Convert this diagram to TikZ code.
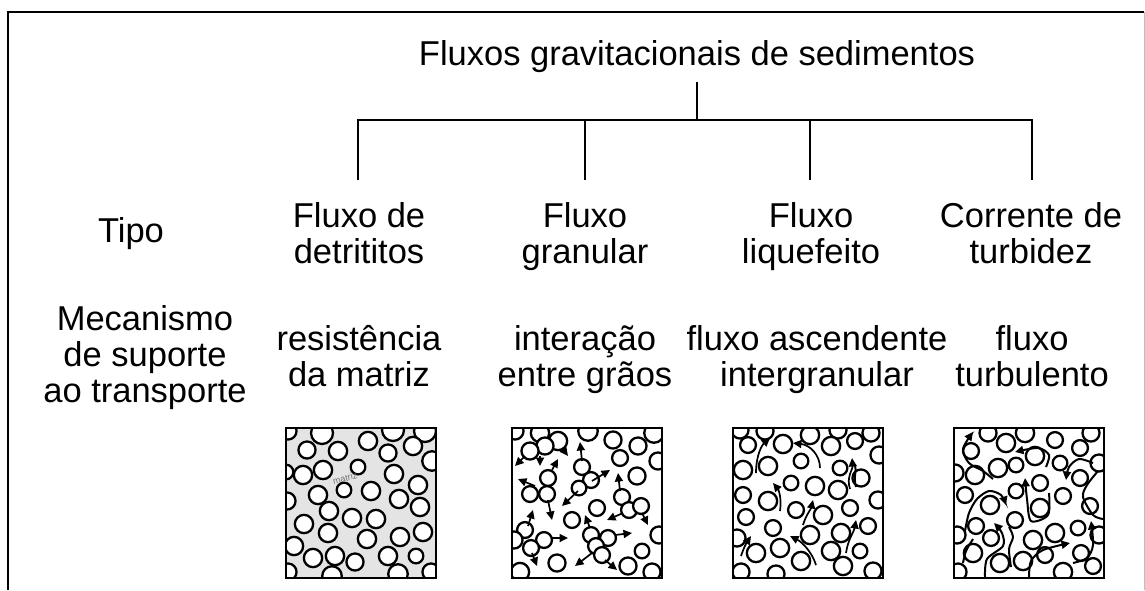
\documentclass[tikz,border=0pt]{standalone}
\usepackage{fontspec}
\setmainfont{Liberation Sans}
\usetikzlibrary{arrows.meta}
\definecolor{matrixgray}{RGB}{228,228,228}
\newcommand\lblfont{\fontsize{34.5}{36}\selectfont}
\newcommand\grainset[1]{\foreach \gx/\gy/\gr in {#1} {\draw[grain] (\gx,\gy) circle [radius=1.22*\gr pt];}}
\tikzset{
  lbl/.style={font=\lblfont, align=center, inner sep=0pt, anchor=base},
  grain/.style={draw=black, line width=2.3pt, fill=white},
  boxframe/.style={draw=black, line width=2.2pt, minimum size=150pt, inner sep=0pt, anchor=north west},
  link/.style={line width=1.6pt},
  push/.style={line width=1.7pt, -{Triangle[length=8.5pt,width=8pt]}},
  swirl/.style={line width=2pt, -{Triangle[length=8.5pt,width=8pt]}},
  wave/.style={line width=2pt}
}
\begin{document}
\begin{tikzpicture}[x=1pt,y=-1pt]
\useasboundingbox (0,0) rectangle (1145,590);
\fill[white] (0,0) rectangle (1145,590);

% outer frame
\draw[line width=2pt] (8,590) -- (8,12) -- (1144,12);
\draw[gray!50, line width=0.6pt] (1144,12) -- (1144,590);

% title and tree (multi-line labels are placed by the baseline of their last line)
\node[lbl, inner ysep=10pt] (ttl) at (697,65) {Fluxos gravitacionais de sedimentos};
\coordinate (hub) at (697,120);
\coordinate (j1) at (358,120);
\coordinate (j2) at (585,120);
\coordinate (j3) at (810,120);
\coordinate (j4) at (1032,120);
\coordinate (e1) at (358,180);
\coordinate (e2) at (585,180);
\coordinate (e3) at (810,180);
\coordinate (e4) at (1032,180);
\draw[link] (ttl.south) -- (hub);
\draw[link] (e1) -- (j1) -- (j4) -- (e4);
\draw[link] (j2) -- (e2);
\draw[link] (j3) -- (e3);

% row headings
\node[lbl] (tipo) at (131,242) {Tipo};
\node[lbl] (mec) at (145,402) {Mecanismo\\de suporte\\ao transporte};

% flow types
\node[lbl] (ty1) at (359,263) {Fluxo de\\detrititos};
\node[lbl] (ty2) at (585,263) {Fluxo\\granular};
\node[lbl] (ty3) at (811,263) {Fluxo\\liquefeito};
\node[lbl] (ty4) at (1031,263) {Corrente de\\turbidez};

% support mechanisms
\node[lbl] (me1) at (359,386) {resistência\\da matriz};
\node[lbl] (me2) at (585,386) {interação\\entre grãos};
\node[lbl] (me3) at (817,386) {fluxo ascendente\\intergranular};
\node[lbl] (me4) at (1032,386) {fluxo\\turbulento};

% ---- box 1: grains floating in matrix
\fill[matrixgray] (285,427) rectangle ++(150,150);
\begin{scope}[shift={(285,427)}]
  \clip (0,0) rectangle (150,150);
  \grainset{1/45/6, 3/4/7, 37/6/9, 108/3/9, 140/4/9, 22/23/7, 53/24/7.5, 83/14/7.5, 103/26/7,
    128/19/7.5, 147/34/8, 18/48/7.5, 38/43/7.5, 73/40/6, 109/47/7.5, 133/58/7.5, 33/68/7.5,
    59/63/6, 86/64/7.5, 114/72/7.5, 2/74/7, 135/80/7.5, 44/84/7.5, 19/97/7.5, 67/91/7.5,
    91/92/7.5, 43/106/7.5, 138/105/7.5, 82/112/7.5, 115/110/7.5, 9/119/7.5, 28/131/7.5,
    50/129/7.5, 70/135/7, 103/129/7.5, 131/129/6, 146/145/7, 47/149/8, 113/147/8, 3/145/7}
  \node[rotate=14, text=black!55, font=\fontsize{9}{9}\selectfont, inner sep=0pt] (mtx) at (60,51) {matriz};
\end{scope}
\node[boxframe] (box1) at (285,427) {};

% ---- box 2: grain collisions
\begin{scope}[shift={(511,427)}]
  \clip (0,0) rectangle (150,150);
  \grainset{4/4/7, 29/6/7.5, 47/14/7.5, 34/19/7, 19/24/7, 77/4/8, 102/13/7, 127/19/7, 143/6/8,
    109/31/6.5, 147/34/7, 71/40/6.5, 80/53/6.5, 68/61/6, 126/49/7, 37/51/6.5, 19/67/6.5,
    36/67/6.5, 111/70/6.5, 86/81/6.5, 118/83/6.5, 130/79/6.5, 61/93/6.5, 148/108/7, 14/103/6.5,
    3/113/7, 33/113/6.5, 20/121/6.5, 80/108/6.5, 97/111/6.5, 85/119/6.5, 91/128/6.5,
    131/124/6, 46/136/7, 9/145/7.5, 117/139/7, 141/145/7}
  \draw[push] (14,29) -- (4,39);
  \draw[push] (29,29) -- (29,39);
  \draw[push] (51,21) -- (57,29);
  \draw[push] (71,34) -- (69,15);
  \draw[push] (41,43) -- (47,32);
  \draw[push] (24,59) -- (7,52);
  \draw[push] (37,73) -- (41,93);
  \draw[push] (81,54) -- (99,43);
  \draw[push] (67,64) -- (51,79);
  \draw[push] (109,64) -- (107,46);
  \draw[push] (112,86) -- (96,93);
  \draw[push] (131,86) -- (137,98);
  \draw[push] (17,99) -- (22,83);
  \draw[push] (41,111) -- (57,111);
  \draw[push] (21,126) -- (26,139);
  \draw[push] (79,101) -- (74,88);
  \draw[push] (104,108) -- (121,106);
  \draw[push] (81,126) -- (64,139);
  \draw[push] (94,133) -- (106,143);
\end{scope}
\node[boxframe] (box2) at (511,427) {};

% ---- box 3: upward escaping pore fluid
\begin{scope}[shift={(732,427)}]
  \clip (0,0) rectangle (150,150);
  \grainset{8/3/7, 33/4/7, 78/8/7.5, 106/3/7, 139/6/7, 16/18/6.5, 51/17/7.5, 99/19/7.5,
    123/14/6.5, 147/28/7, 11/43/7.5, 36/39/7.5, 69/34/6, 108/41/6, 129/51/7, 59/56/6,
    83/59/7.5, 106/63/7.5, 11/68/6.5, 36/74/7.5, 146/73/7, 64/83/6.5, 91/88/7.5, 118/81/6.5,
    14/90/6.5, 41/101/6.5, 78/108/7.5, 109/106/7.5, 136/99/6.5, 5/111/7, 24/126/7.5,
    48/121/7.5, 99/124/7.5, 128/124/6, 69/134/7.5, 9/145/7, 44/147/7, 111/139/7.5, 141/144/7}
  \draw[push] (24,46) .. controls (24,28) and (30,18) .. (38,11);
  \draw[push] (88,41) .. controls (88,28) and (78,18) .. (61,16);
  \draw[push] (118,62) .. controls (114,50) and (121,42) .. (120,31);
  \draw[wave] (124,60) .. controls (121,50) and (125,44) .. (123,38);
  \draw[push] (48,84) .. controls (50,70) and (46,62) .. (41,56);
  \draw[push] (71,98) .. controls (74,88) and (79,82) .. (81,73);
  \draw[push] (9,129) .. controls (12,120) and (15,115) .. (19,109);
  \draw[push] (84,138) .. controls (80,125) and (70,115) .. (58,109);
  \draw[push] (114,126) .. controls (116,112) and (122,105) .. (124,93);
\end{scope}
\node[boxframe] (box3) at (732,427) {};

% ---- box 4: turbulent eddies
\begin{scope}[shift={(953,427)}]
  \clip (0,0) rectangle (150,150);
  \grainset{35/6/7, 72/6/7.5, 102/13/6.5, 138/6/7, 18/24/6.5, 53/16/7.5, 82/29/7.5, 127/21/6.5,
    45/41/7.5, 63/38/6, 107/36/6, 146/36/7, 22/48/7.5, 87/56/6.5, 127/51/6.5, 2/46/7,
    12/68/6.5, 63/64/6, 110/69/6.5, 37/78/7.5, 87/81/7.5, 137/79/6.5, 62/93/6.5, 23/99/6.5,
    125/101/6, 4/108/7, 38/111/6.5, 80/113/7.5, 102/106/7.5, 146/108/7, 20/126/7.5,
    128/126/6.5, 47/136/7.5, 70/134/7.5, 92/128/6.5, 140/139/6.5, 5/145/7, 110/145/7.5}
  \draw[swirl] plot[smooth] coordinates {(40,52) (30,44) (16,36) (10,22) (20,5)};
  \draw[swirl] plot[smooth] coordinates {(93,40) (96,28) (85,21) (62,25)};
  \draw[swirl] plot[smooth] coordinates {(96,66) (95,88) (78,94) (74,72) (72,51)};
  \draw[swirl] plot[smooth] coordinates {(140,36) (126,32) (116,40) (113,53)};
  \draw[swirl] plot[smooth] coordinates {(12,104) (16,86) (24,72) (36,64) (48,68) (53,78)};
  \draw[swirl] plot[smooth] coordinates {(32,150) (34,132) (50,119) (49,106) (41,96)};
  \draw[swirl] plot[smooth] coordinates {(76,150) (78,134) (90,123) (117,116)};
  \draw[swirl] plot[smooth] coordinates {(120,136) (134,131) (140,118) (138,94)};
  \draw[wave] plot[smooth] coordinates {(145,44) (134,58) (130,70) (140,88) (150,92)};
  \draw[wave] plot[smooth] coordinates {(20,112) (13,124) (10,136)};
  \draw[wave] plot[smooth] coordinates {(56,100) (60,110) (56,122) (58,140)};
\end{scope}
\node[boxframe] (box4) at (953,427) {};
\end{tikzpicture}
\end{document}
